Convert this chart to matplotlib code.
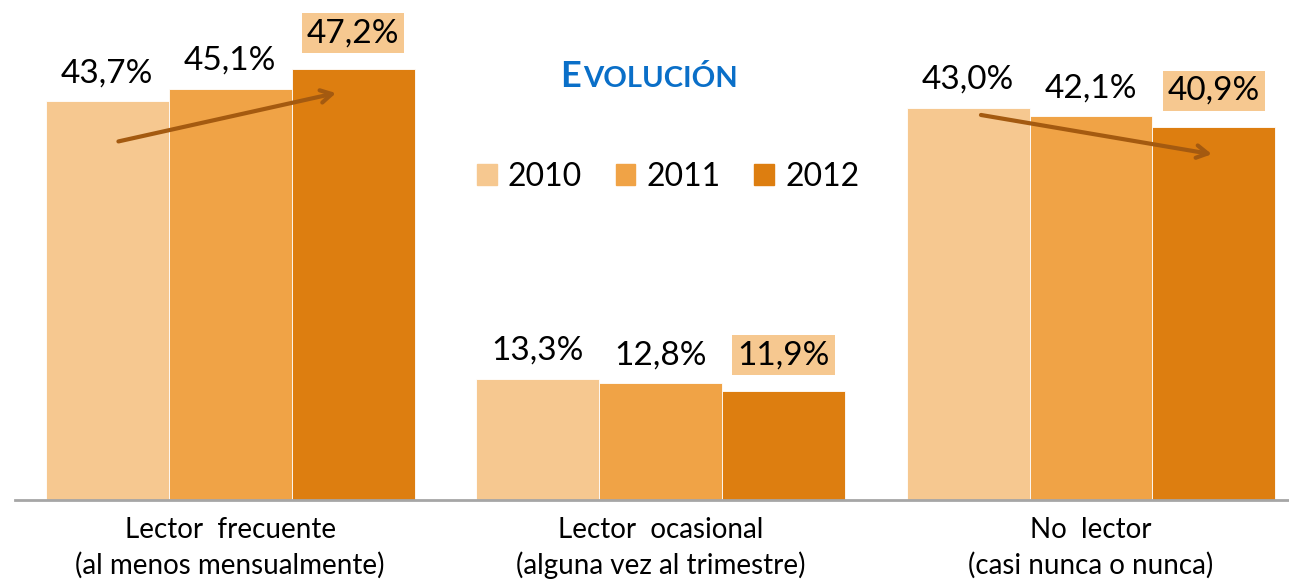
import numpy as np
import matplotlib.pyplot as plt
from matplotlib.patches import Patch

plt.rcParams['font.family'] = ['Lato', 'DejaVu Sans']

# Data
categories = ['Lector  frecuente\n(al menos mensualmente)',
              'Lector  ocasional\n(alguna vez al trimestre)',
              'No  lector\n(casi nunca o nunca)']
years = ['2010', '2011', '2012']
v2010 = [43.7, 13.3, 43.0]
v2011 = [45.1, 12.8, 42.1]
v2012 = [47.2, 11.9, 40.9]
colors = ['#F6C890', '#F0A346', '#DD7E10']

fig = plt.figure(figsize=(12.89, 5.82), dpi=100)
ax = fig.add_axes([15 / 1289, 82 / 582, 1274 / 1289, 500 / 582])

x = np.arange(len(categories))
w = 0.2857
series = [v2010, v2011, v2012]
for i, vals in enumerate(series):
    xs = x + (i - 1) * w
    ax.bar(xs, vals, width=w, color=colors[i], label=years[i],
           edgecolor='white', linewidth=0.6)
    for xi, v in zip(xs, vals):
        lbl = f'{v:.1f}%'.replace('.', ',')
        if i == 2:
            ax.text(xi, v + 2.3, lbl, ha='center', va='bottom', fontsize=24,
                    bbox=dict(boxstyle='square,pad=0.15', fc='#F6C890', ec='none'))
        else:
            ax.text(xi, v + 1.4, lbl, ha='center', va='bottom', fontsize=24)

# trend arrows
arrow_kw = dict(arrowstyle='->,head_length=0.8,head_width=0.45', color='#A45A10',
                lw=3, shrinkA=0, shrinkB=0)
ax.annotate('', xy=(x[0] + w - 0.04, v2012[0] - 2.6),
            xytext=(x[0] - w + 0.026, v2010[0] - 4.4), arrowprops=arrow_kw)
ax.annotate('', xy=(x[2] + w - 0.005, v2012[2] - 3.0),
            xytext=(x[2] - w + 0.03, v2010[2] - 0.8), arrowprops=arrow_kw)

ax.set_xlim(-0.5, 2.46)
ax.set_ylim(0, 54.8)
ax.set_xticks(x)
ax.set_xticklabels(categories, fontsize=20, linespacing=1.4)
ax.tick_params(axis='x', length=0, pad=12)
ax.set_yticks([])
for s in ['top', 'right', 'left']:
    ax.spines[s].set_visible(False)
ax.spines['bottom'].set_color('#A6A6A6')
ax.spines['bottom'].set_linewidth(2)

# title in small caps: big "E" then smaller rest, placed after the E
t1 = fig.text(560 / 1289, 1 - 87 / 582, 'E', color='#0A6FC8', fontsize=26,
              fontweight='bold', ha='left', va='baseline')
fig.canvas.draw()
bb = t1.get_window_extent(fig.canvas.get_renderer())
fig.text((bb.x1 + 2) / 1289, 1 - 87 / 582, 'VOLUCIÓN', color='#0A6FC8',
         fontsize=21, fontweight='bold', ha='left', va='baseline')

handles = [Patch(color=c) for c in colors]
fig.legend(handles, years, loc='center', bbox_to_anchor=(668 / 1289, 1 - 177 / 582),
           ncol=3, frameon=False, fontsize=23, handlelength=0.62, handleheight=0.62,
           handletextpad=0.35, columnspacing=1.05)

fig.savefig('out.png', dpi=100)
